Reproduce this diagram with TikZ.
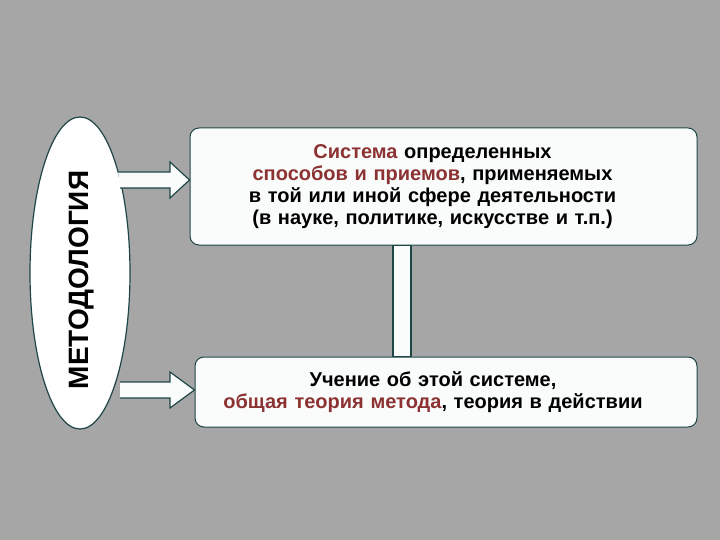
\documentclass[tikz,border=0pt]{standalone}
\usepackage{fontspec}
\setmainfont{Liberation Sans}
\usetikzlibrary{shapes.geometric}
\definecolor{bg}{RGB}{166,166,166}
\definecolor{edge}{RGB}{30,70,70}
\definecolor{hl}{RGB}{140,50,50}
\definecolor{boxfill}{RGB}{250,252,252}
\begin{document}
\begin{tikzpicture}[x=1pt,y=-1pt,
  box/.style={draw=edge,line width=1pt,fill=boxfill,rounded corners=9pt,align=center,font=\bfseries\fontsize{20}{22}\selectfont},
  arr/.style={draw=edge,line width=1.2pt,fill=boxfill}]
\fill[bg] (0,0) rectangle (720,540);
\useasboundingbox (0,0) rectangle (720,540);
\node[ellipse,draw=edge,line width=1.2pt,fill=white,minimum width=100pt,minimum height=312pt,inner sep=0pt] (e) at (80,273) {};
\node[rotate=90,font=\bfseries\fontsize{28}{30}\selectfont] (t) at ([shift={(2,7)}]e.center) {МЕТОДОЛОГИЯ};
\node[box,minimum width=507pt,minimum height=117pt,text width=480pt,xshift=0pt] (b1) at (443.5,186.5) {\hspace*{-22pt}{\color{hl}Система} определенных\\\hspace*{-22pt}{\color{hl}способов и приемов}, применяемых\\\hspace*{-22pt}в той или иной сфере деятельности\\\hspace*{-22pt}(в науке, политике, искусстве и т.п.)};
\node[box,minimum width=502pt,minimum height=70pt,text width=480pt] (b2) at (446,392) {\hspace*{-26pt}Учение об этой системе,\\\hspace*{-26pt}{\color{hl}общая теория метода}, теория в действии};
\draw[arr] (393,0 |- b1.south) rectangle (411,0 |- b2.north);
\draw[arr] (118,172) -- (170,172) -- (170,162) -- (b1.west |- 0,180) -- (170,198) -- (170,188) -- (120,188);
\draw[arr] (120,382) -- (170,382) -- (170,372) -- (b2.west |- 0,390) -- (170,408) -- (170,398) -- (120,398);
\end{tikzpicture}
\end{document}
